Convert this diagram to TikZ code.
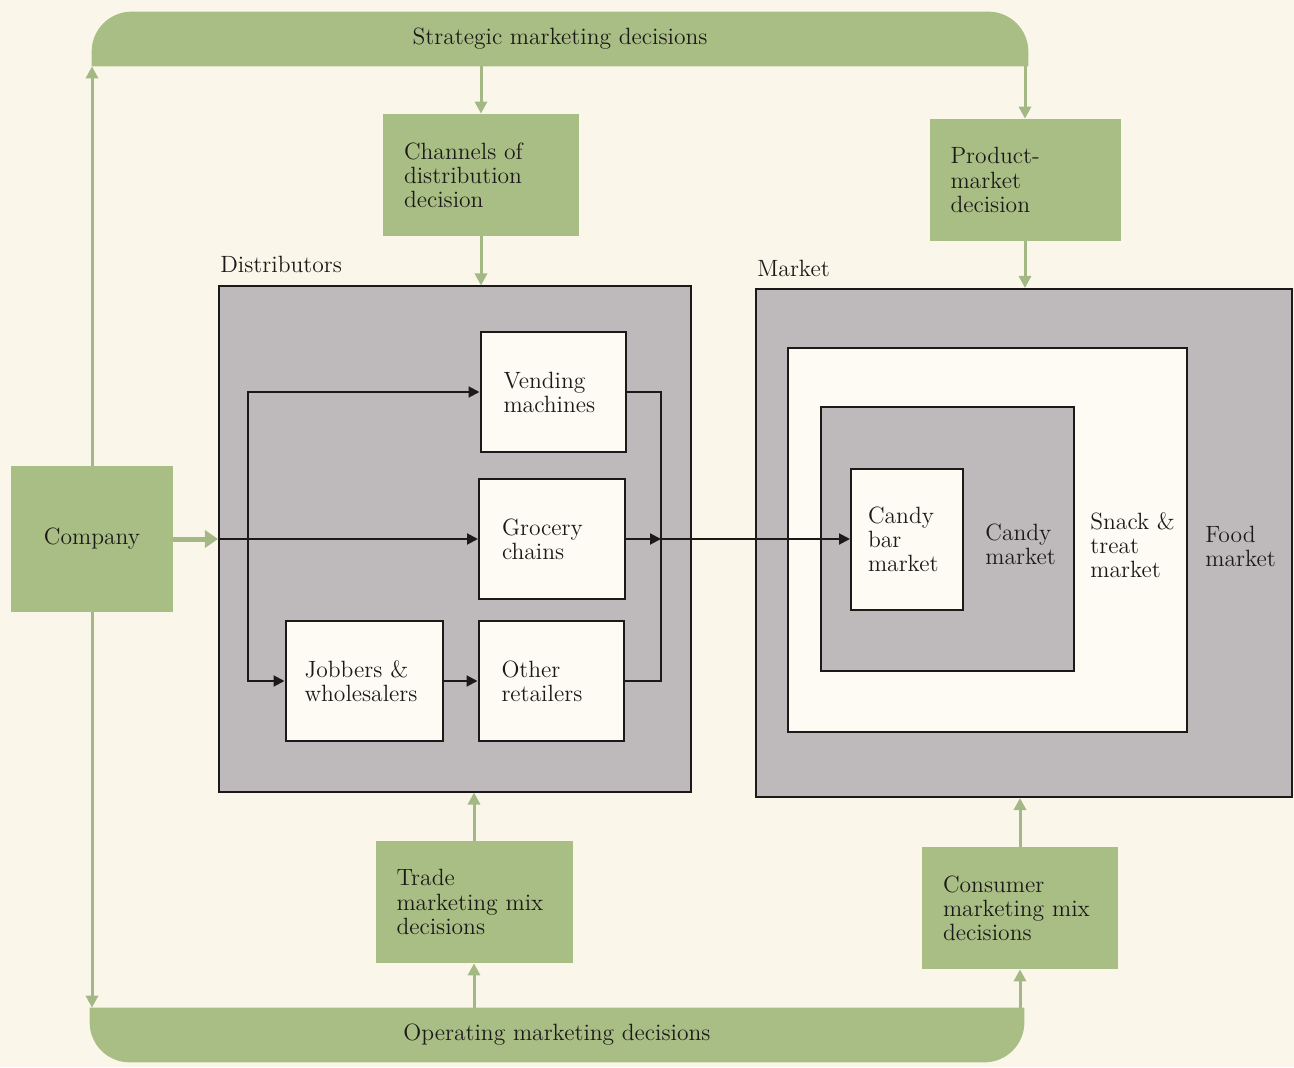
\documentclass[tikz,border=0pt]{standalone}
\usetikzlibrary{arrows.meta,backgrounds}
\definecolor{paper}{RGB}{250,247,234}
\definecolor{card}{RGB}{253,251,243}
\definecolor{leaf}{RGB}{169,190,133}
\definecolor{stem}{RGB}{163,184,132}
\definecolor{shade}{RGB}{190,186,188}
\definecolor{ink}{RGB}{28,26,24}
\begin{document}
\begin{tikzpicture}[x=0.2mm, y=-0.2mm, text=ink,
    font=\fontsize{13.4pt}{13.7pt}\selectfont,
    band/.style={minimum width=#1, minimum height=10.8mm, inner sep=0pt},
    plan/.style={fill=leaf, text width=#1, inner xsep=4.2mm, align=left, minimum height=24.4mm},
    panel/.style 2 args={draw=ink, line width=0.4mm, fill=shade, minimum width=#1, minimum height=#2, inner sep=0pt},
    outlet/.style={draw=ink, line width=0.4mm, fill=card, text width=#1, inner xsep=4.6mm, align=left, minimum height=24mm},
    tag/.style={inner sep=0pt, align=left},
    feed/.style={draw=stem, line width=0.6mm, -{Triangle[length=2.4mm, width=2.4mm]}},
    flow/.style={draw=ink, line width=0.4mm, -{Triangle[length=2.2mm, width=2.2mm]}},
    link/.style={draw=ink, line width=0.4mm}]

    % decision bands
    \node[band=187.2mm] (strategic) at (560,39) {Strategic marketing decisions};
    \node[band=186.8mm] (operating) at (557,1035) {Operating marketing decisions};

    \node[plan=30.8mm] (channels) at (481,175) {Channels of\\distribution\\decision};
    \node[plan=29.8mm] (product) at (1025,180) {Product-\\market\\decision};
    \node[plan=31mm] (trade) at (474,902) {Trade\\marketing mix\\decisions};
    \node[plan=30.8mm] (consumer) at (1020,908) {Consumer\\marketing mix\\decisions};
    \node[fill=leaf, minimum width=32.2mm, minimum height=29.2mm] (company) at (92,539) {Company};

    % distributors
    \node[panel={94.4mm}{101mm}] (distributors) at (455,539) {};
    \node[tag, anchor=base west] (distlabel) at (220,273) {Distributors};
    \node[outlet=19.8mm] (vending) at (553,392) {Vending\\machines};
    \node[outlet=20mm] (grocery) at (552,539) {Grocery\\chains};
    \node[outlet=23.8mm, inner xsep=3.8mm] (jobbers) at (364,681) {Jobbers \&\\wholesalers};
    \node[outlet=19.8mm] (other) at (551,681) {Other\\retailers};

    % market
    \node[panel={107.2mm}{101.6mm}] (market) at (1024,543) {};
    \node[tag, anchor=base west] (marketlabel) at (757,277) {Market};
    \node[panel={79.8mm}{76.6mm}, fill=card] (snack) at (987,540) {};
    \node[panel={50.6mm}{52.8mm}] (candy) at (947,539) {};
    \node[outlet=15.6mm, inner xsep=3.4mm, minimum height=28.2mm] (candybar) at (907,539) {Candy\\bar\\market};
    \node[tag, anchor=west] (candylabel) at (985,544) {Candy\\market};
    \node[tag, anchor=west] (snacklabel) at (1090,545) {Snack \&\\treat\\market};
    \node[tag, anchor=west] (foodlabel) at (1205,546) {Food\\market};

    \draw[feed] (strategic.south -| channels.north) -- (channels.north);
    \draw[feed] (strategic.south -| product.north) -- (product.north);
    \draw[feed] (channels.south) -- (channels.south |- distributors.north);
    \draw[feed] (product.south) -- (product.south |- market.north);
    \draw[feed] (company.north) -- (company.north |- strategic.south);
    \draw[feed] (company.south) -- (company.south |- operating.north);
    \draw[feed] (operating.north -| trade.south) -- (trade.south);
    \draw[feed] (trade.north) -- (trade.north |- distributors.south);
    \draw[feed] (operating.north -| consumer.south) -- (consumer.south);
    \draw[feed] (consumer.north) -- (consumer.north |- market.south);
    \draw[feed, line width=1mm, -{Triangle[length=2.6mm, width=3.4mm]}] (company.east) -- (company.east -| distributors.west);

    \coordinate (fork) at (248,539);
    \coordinate (merge) at (661,539);
    \draw[flow] (company.east -| distributors.west) -- (grocery.west);
    \draw[flow, {Triangle[length=2.2mm, width=2.2mm]}-{Triangle[length=2.2mm, width=2.2mm]}] (vending.west) -- (vending.west -| fork) -- (jobbers.west -| fork) -- (jobbers.west);
    \draw[flow] (jobbers) -- (other);
    \draw[link] (vending.east) -| (merge |- other.east) -- (other.east);
    \draw[flow] (grocery.east) -- (merge);
    \draw[flow] (merge) -- (candybar.west);

    \begin{pgfonlayer}{background}
        \fill[paper] (0,0) rectangle (1294,1067);
        \fill[leaf] (strategic.south west) [rounded corners=8mm] -- (strategic.north west) -- (strategic.north east) [sharp corners] -- (strategic.south east) -- cycle;
        \fill[leaf] (operating.north east) -- (operating.north west) [rounded corners=8mm] -- (operating.south west) -- (operating.south east) [sharp corners] -- cycle;
    \end{pgfonlayer}
\end{tikzpicture}
\end{document}
